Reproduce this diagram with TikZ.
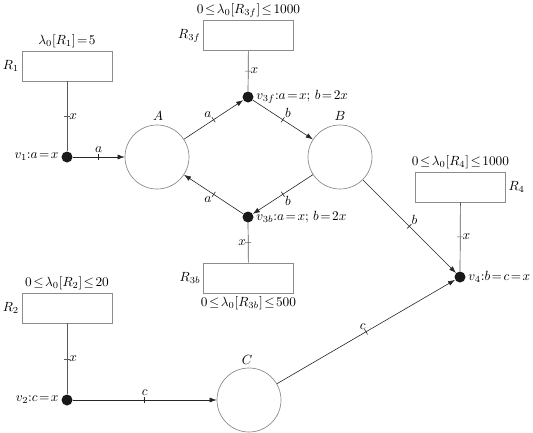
\documentclass[tikz,border=0pt]{standalone}
\usepackage{graphicx}
\usetikzlibrary{arrows.meta,decorations.markings}
\newcommand{\Tx}[1]{\scalebox{1.33}{#1}}
\tikzset{
  res/.style={draw=black!45, line width=0.7pt, minimum width=90pt, minimum height=30pt, inner sep=0pt},
  place/.style={circle, draw=black!45, line width=0.7pt, minimum size=64pt, inner sep=0pt},
  vdot/.style={circle, fill=black!90, minimum size=11pt, inner sep=0pt},
  txt/.style={inner sep=1.5pt},
  arc/.style={draw=black!85, line width=0.6pt, -{Latex[length=7pt,width=5pt]}},
  link/.style={draw=black!65, line width=0.7pt},
  tick/.style={postaction={decorate}, decoration={markings, mark=at position 0.5 with {\draw[-, line width=0.6pt] (0,-3pt) -- (0,3pt);}}}
}
\begin{document}
\begin{tikzpicture}[x=1pt,y=-1pt]
\useasboundingbox (0,0) rectangle (533,432);
% resources
\node[res] (R1) at (67,66) {};
\node[res] (R3f) at (248.5,35.5) {};
\node[res] (R3b) at (248.5,278) {};
\node[res] (R4) at (460.5,187) {};
\node[res] (R2) at (67,308) {};
% places
\node[place] (A) at (157,157) {};
\node[place] (B) at (340,157) {};
\node[place] (C) at (249,400) {};
% vertices
\node[vdot] (v1) at (67,157) {};
\node[vdot] (v3f) at (248,97) {};
\node[vdot] (v3b) at (248,217) {};
\node[vdot] (v4) at (460,277) {};
\node[vdot] (v2) at (67,400) {};
% resource labels
\node[txt, anchor=south] (l1) at ([yshift=1pt]R1.north) {\Tx{$\lambda_0[R_1]\!=\!5$}};
\node[txt, anchor=east] (n1) at ([xshift=-1pt]R1.west) {\Tx{$R_1$}};
\node[txt, anchor=south] (l3f) at ([yshift=1pt]R3f.north) {\Tx{$0\!\leq\!\lambda_0[R_{3f}]\!\leq\!1000$}};
\node[txt, anchor=east] (n3f) at ([xshift=-1pt]R3f.west) {\Tx{$R_{3f}$}};
\node[txt, anchor=north] (l3b) at ([yshift=-1pt]R3b.south) {\Tx{$0\!\leq\!\lambda_0[R_{3b}]\!\leq\!500$}};
\node[txt, anchor=east] (n3b) at ([xshift=-1pt]R3b.west) {\Tx{$R_{3b}$}};
\node[txt, anchor=south] (l4) at ([yshift=1pt]R4.north) {\Tx{$0\!\leq\!\lambda_0[R_4]\!\leq\!1000$}};
\node[txt, anchor=west] (n4) at ([xshift=1pt]R4.east) {\Tx{$R_4$}};
\node[txt, anchor=south] (l2) at ([yshift=1pt]R2.north) {\Tx{$0\!\leq\!\lambda_0[R_2]\!\leq\!20$}};
\node[txt, anchor=east] (n2) at ([xshift=-1pt]R2.west) {\Tx{$R_2$}};
% place labels
\node[txt] (tA) at (158,116) {\Tx{$A$}};
\node[txt] (tB) at (340,116) {\Tx{$B$}};
\node[txt] (tC) at (247,360) {\Tx{$C$}};
% vertex labels
\node[txt, anchor=east] (t1) at ([xshift=-1pt]v1.west) {\Tx{$v_1$:$a\!=\!x$}};
\node[txt, anchor=west] (t3f) at ([xshift=1pt]v3f.east) {\Tx{$v_{3f}$:$a\!=\!x;\,b\!=\!2x$}};
\node[txt, anchor=west] (t3b) at ([xshift=1pt]v3b.east) {\Tx{$v_{3b}$:$a\!=\!x;\,b\!=\!2x$}};
\node[txt, anchor=west] (t4) at ([xshift=1pt]v4.east) {\Tx{$v_4$:$b\!=\!c\!=\!x$}};
\node[txt, anchor=east] (t2) at ([xshift=-1pt]v2.west) {\Tx{$v_2$:$c\!=\!x$}};
% resource links
\draw[link, tick] (R1) -- node[txt, midway, right, xshift=0.5pt] {\Tx{$x$}} (v1);
\draw[link, tick] (R3f) -- node[txt, midway, right, xshift=0.5pt] {\Tx{$x$}} (v3f);
\draw[link, tick] (R3b) -- node[txt, midway, left, xshift=-0.5pt] {\Tx{$x$}} (v3b);
\draw[link, tick] (R4) -- node[txt, midway, right, xshift=0.5pt] {\Tx{$x$}} (v4);
\draw[link, tick] (R2) -- node[txt, midway, right, xshift=0.5pt] {\Tx{$x$}} (v2);
% arcs
\draw[arc, tick] (v1) -- node[txt, midway, above, yshift=2.5pt] {\Tx{$a$}} (A);
\draw[arc, tick] (A) -- node[txt, midway, above left, inner sep=2pt] {\Tx{$a$}} (v3f);
\draw[arc, tick] (v3f) -- node[txt, midway, above right, inner sep=2pt] {\Tx{$b$}} (B);
\draw[arc, tick] (B) -- node[txt, midway, below right, inner sep=2pt] {\Tx{$b$}} (v3b);
\draw[arc, tick] (v3b) -- node[txt, midway, below left, inner sep=2pt] {\Tx{$a$}} (A);
\draw[arc, tick] (B) -- node[txt, midway, above right, inner sep=2pt] {\Tx{$b$}} (v4);
\draw[arc, tick] (v2) -- node[txt, midway, above, yshift=2.5pt] {\Tx{$c$}} (C);
\draw[arc, tick] (C) -- node[txt, midway, above left, inner sep=2pt, xshift=2pt] {\Tx{$c$}} (v4);
\end{tikzpicture}
\end{document}
